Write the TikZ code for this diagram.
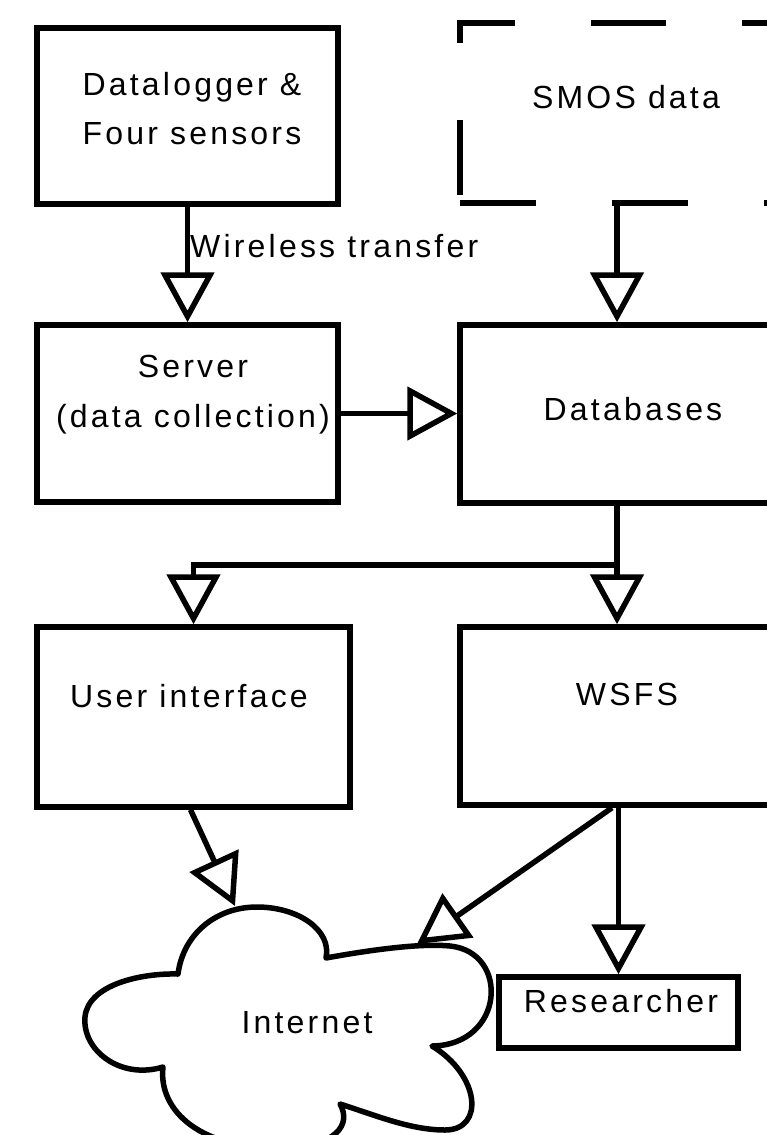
\documentclass[tikz,border=0pt]{standalone}
\usepackage{fontspec}
\setmainfont{Liberation Sans}[LetterSpace=10]
\usetikzlibrary{arrows.meta}
\begin{document}
\begin{tikzpicture}[x=1pt,y=-1pt,
  every node/.style={font=\fontsize{32pt}{49.5pt}\selectfont},
  box/.style={draw, line width=5.5pt, inner sep=0pt, fill=white},
  ghost/.style={inner sep=0pt, outer sep=0pt},
  lbl/.style={inner sep=0pt, anchor=base},
  ln/.style={line width=5.5pt},
  arr/.style={line width=5.5pt, -{Triangle[open,length=50pt,width=53pt]}},
  ]
\useasboundingbox (0,0) rectangle (767,1135);
\fill[white] (0,0) rectangle (767,1135);
\clip (0,0) rectangle (767,1135);

% boxes
\node[box, minimum width=301pt, minimum height=176pt] (dl) at (187.5,116) {};
\node[box, minimum width=301pt, minimum height=177pt] (srv) at (187.5,413.5) {};
\node[ghost, minimum width=340pt, minimum height=180pt] (smos) at (630,113) {};
\node[box, minimum width=340pt, minimum height=178pt] (db) at (630,414) {};
\node[box, minimum width=313pt, minimum height=180pt] (ui) at (193.5,717) {};
\node[box, minimum width=340pt, minimum height=178pt] (wsfs) at (630,716) {};
\node[box, minimum width=239pt, minimum height=71pt] (res) at (618.5,1012.5) {};

% dashed SMOS outline
\draw[ln, dash pattern=on 75pt off 76pt] ([yshift=-20pt]smos.north west) -- (smos.north west) -- (smos.north east) -- (smos.south east);
\draw[ln, dash pattern=on 76pt off 76pt] (smos.south west) -- (smos.south east);
\draw[ln, dash pattern=on 0pt off 8pt on 75pt off 200pt] (smos.south west) -- ([yshift=-20pt]smos.north west);

% cloud
\draw[ln, line join=round, fill=white] (178,974) .. controls (183,935) and (215,907) .. (257,907)
  .. controls (298,907) and (332,930) .. (326,958)
  .. controls (370,950) and (420,943) .. (450,946)
  .. controls (510,952) and (505,1045) .. (432,1046)
  .. controls (480,1075) and (485,1130) .. (445,1130)
  .. controls (410,1130) and (375,1115) .. (340,1104)
  .. controls (352,1125) and (335,1145) .. (290,1148)
  .. controls (200,1152) and (158,1110) .. (163,1067)
  .. controls (120,1080) and (82,1050) .. (85,1017)
  .. controls (88,985) and (140,973) .. (178,974) -- cycle;

% texts
\node[lbl] (dlt1) at (192,95) {Datalogger \&};
\node[lbl] (dlt2) at (192,144) {Four sensors};
\node[lbl, anchor=base west] (wl) at (190,257) {Wireless transfer};
\node[lbl] (srvt1) at (193,377) {Server};
\node[lbl] (srvt2) at (193,427) {(data collection)};
\node[lbl] (smost) at (626,108) {SMOS data};
\node[lbl] (dbt) at (633,420) {Databases};
\node[lbl] (uit) at (189,707) {User interface};
\node[lbl] (wsfst) at (627,705) {WSFS};
\node[lbl] (inet) at (307,1033) {Internet};
\node[lbl] (rest) at (621,1012) {Researcher};

% helper coordinates
\coordinate (xs) at (617,0);
\coordinate (xw) at (612,0);
\coordinate (j) at (617,565);
\coordinate (inA) at (235,906);
\coordinate (inB) at (417,944);

% connectors
\draw[arr] (dl.south) -- (srv.north);
\draw[arr] (srv.east) -- (srv.east -| db.west);
\draw[arr] (smos.south -| xs) -- (db.north -| xs);
\draw[arr] (db.south -| xs) -- (j) -| (ui.north);
\draw[arr] (j) -- (wsfs.north -| xs);
\draw[arr] ([xshift=-3pt]ui.south) -- (inA);
\draw[arr] (wsfs.south -| xw) -- (inB);
\draw[arr] (wsfs.south -| res.north) -- (res.north);
\end{tikzpicture}
\end{document}
